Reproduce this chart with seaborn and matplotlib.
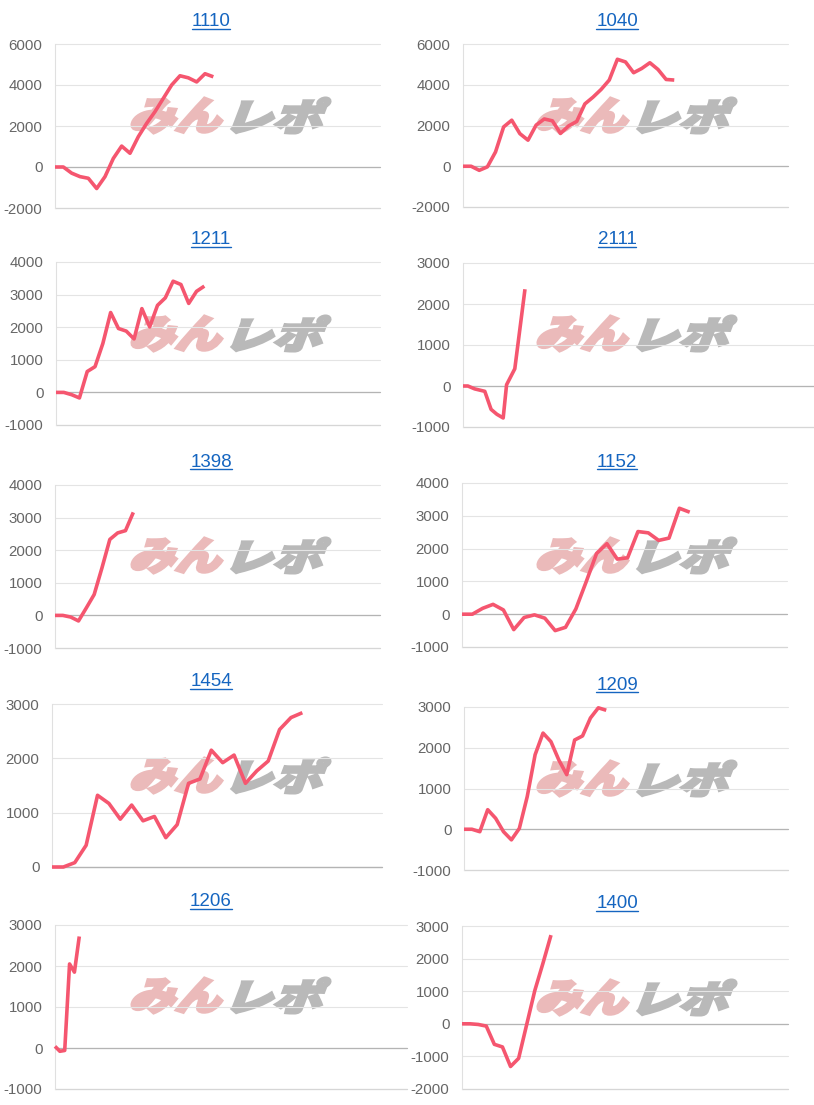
import matplotlib
matplotlib.use("Agg")
import matplotlib.pyplot as plt
import seaborn as sns
from matplotlib.textpath import TextPath
from matplotlib.patches import PathPatch
from matplotlib.font_manager import FontProperties
from matplotlib.transforms import Affine2D
from matplotlib.lines import Line2D

# chart titles (machine numbers), in grid order
titles = ["1110", "1040", "1211", "2111", "1398", "1152", "1454", "1209", "1206", "1400"]

# series values
v1110 = [0, 0, -300, -470, -550, -1050, -470, 420, 1020, 670, 1480, 2130, 2700, 3350,
         4000, 4450, 4350, 4150, 4550, 4400]
v1040 = [0, 0, -200, -30, 700, 1930, 2260, 1600, 1280, 2020, 2320, 2230, 1610, 1980,
         2200, 3060, 3390, 3770, 4230, 5250, 5120, 4590, 4800, 5080, 4750, 4260, 4230]
v1211 = [0, 0, -70, -170, 640, 790, 1500, 2450, 1960, 1880, 1640, 2570, 2010, 2670,
         2900, 3410, 3310, 2730, 3100, 3260]
v2111 = [0, 0, -70, -130, -570, -690, -780, 30, 420, 2360]
x2111 = [0, 1, 2.4, 4.5, 5.8, 7.0, 8.3, 9.0, 10.7, 12.8]
v1398 = [0, 0, -50, -170, 230, 640, 1460, 2330, 2530, 2600, 3160]
v1152 = [0, 0, 180, 300, 130, -470, -100, -20, -120, -500, -400, 160, 990, 1850,
         2150, 1680, 1720, 2520, 2480, 2250, 2320, 3230, 3110]
v1454 = [0, 0, 80, 400, 1320, 1170, 880, 1140, 850, 930, 540, 780, 1540, 1620, 2150,
         1920, 2060, 1540, 1770, 1950, 2530, 2750, 2840]
v1209 = [0, 0, -60, 480, 270, -60, -260, 20, 800, 1830, 2360, 2150, 1700, 1340, 2190,
         2290, 2730, 2980, 2920]
v1206 = [40, -80, -60, 2050, 1850, 2720]
v1400 = [0, 0, -20, -70, -630, -710, -1310, -1060, -20, 1020, 1850, 2720]

series = [v1110, v1040, v1211, v2111, v1398, v1152, v1454, v1209, v1206, v1400]
xvals = [None, None, None, x2111, None, None, None, None, None, None]

# y tick labels per chart
yticks = [
    [-2000, 0, 2000, 4000, 6000],
    [-2000, 0, 2000, 4000, 6000],
    [-1000, 0, 1000, 2000, 3000, 4000],
    [-1000, 0, 1000, 2000, 3000],
    [-1000, 0, 1000, 2000, 3000, 4000],
    [-1000, 0, 1000, 2000, 3000, 4000],
    [0, 1000, 2000, 3000],
    [-1000, 0, 1000, 2000, 3000],
    [-1000, 0, 1000, 2000, 3000],
    [-2000, -1000, 0, 1000, 2000, 3000],
]
# number of x slots spanned by each axis
xspan = [39, 40, 41.5, 72.5, 41.5, 31.4, 29, 41, 72.5, 40.3]

# layout in pixels: axes box (left, top, right, bottom)
boxes = [
    (55, 44, 380, 208), (463, 44, 788, 207),
    (56, 262, 380, 425), (463, 263, 814, 427),
    (55, 485, 380, 648), (462, 483, 787, 647),
    (52, 704, 382, 867), (464, 707, 788, 870),
    (55, 925, 407, 1089), (462, 926, 788, 1089),
]
title_y = [22, 22, 240, 240, 462, 462, 682, 685, 902, 904]
col_x = [211, 617]

W, H = 814, 1105
LINE = "#f5566f"
BLUE = "#1565c0"

sns.set_style("white")
plt.rcParams["font.family"] = ["Liberation Sans", "DejaVu Sans"]
plt.rcParams["axes.unicode_minus"] = False

fig = plt.figure(figsize=(W / 100, H / 100), dpi=100)
fig.patch.set_facecolor("white")

wm_font = FontProperties(family=["Noto Sans CJK JP"], weight="black")


def stamp(text, color, l, t, r, b):
    # slanted watermark glyphs fitted to a pixel box
    p = TextPath((0, 0), text, size=40, prop=wm_font)
    p = p.transformed(Affine2D().skew_deg(16, 0))
    e = p.get_extents()
    tr = (Affine2D().translate(-e.x0, -e.y0)
          .scale((r - l) / e.width, (b - t) / e.height)
          .translate(l, H - b).scale(1 / W, 1 / H))
    patch = PathPatch(p.transformed(tr), fc=color, ec=color, lw=2.2,
                      joinstyle="miter", transform=fig.transFigure, zorder=-1)
    fig.add_artist(patch)


title_texts = []
for i, vals in enumerate(series):
    l, t, r, b = boxes[i]
    ax = fig.add_axes([l / W, 1 - b / H, (r - l) / W, (b - t) / H])
    ax.set_facecolor("none")
    x = xvals[i] if xvals[i] is not None else list(range(len(vals)))
    sns.lineplot(x=x, y=vals, ax=ax, color=LINE, linewidth=2.6, zorder=3,
                 solid_joinstyle="round", solid_capstyle="butt", clip_on=False)
    ax.set_xlim(0, xspan[i])
    ax.set_ylim(yticks[i][0], yticks[i][-1])
    ax.set_yticks(yticks[i])
    ax.set_xticks([])
    ax.set_xlabel("")
    ax.set_ylabel("")
    ax.yaxis.grid(True, color="#e4e4e4", linewidth=0.8)
    for gl in ax.get_ygridlines():
        gl.set_clip_on(False)
    ax.axhline(yticks[i][0], color="#d6d6d6", linewidth=0.9, zorder=2, clip_on=False)
    ax.axhline(0, color="#b4b4b4", linewidth=0.9, zorder=2, clip_on=False)
    for s in ["top", "right", "bottom"]:
        ax.spines[s].set_visible(False)
    ax.spines["left"].set_color("#e0e0e0")
    ax.spines["left"].set_linewidth(0.8)
    ax.tick_params(axis="y", length=0, pad=9, labelsize=10.8, labelcolor="#666666")

    ty = title_y[i]
    title_texts.append(fig.text(col_x[i % 2] / W, 1 - ty / H, titles[i], ha="center",
                                va="center", fontsize=13.5, color=BLUE))

    # watermark
    ox = 0 if i % 2 == 0 else 406
    stamp("みん", "#ebbaba", ox + 132, ty + 76, ox + 222, ty + 111)
    stamp("レポ", "#b9b9b9", ox + 232, ty + 76, ox + 330, ty + 111)

# underline the titles like links
fig.canvas.draw()
renderer = fig.canvas.get_renderer()
for txt in title_texts:
    bb = txt.get_window_extent(renderer)
    y = bb.y0 + 2
    fig.add_artist(Line2D([bb.x0 / W, bb.x1 / W], [y / H, y / H], color=BLUE,
                          linewidth=1.0, transform=fig.transFigure))

fig.savefig("out.png", dpi=100, facecolor="white")
